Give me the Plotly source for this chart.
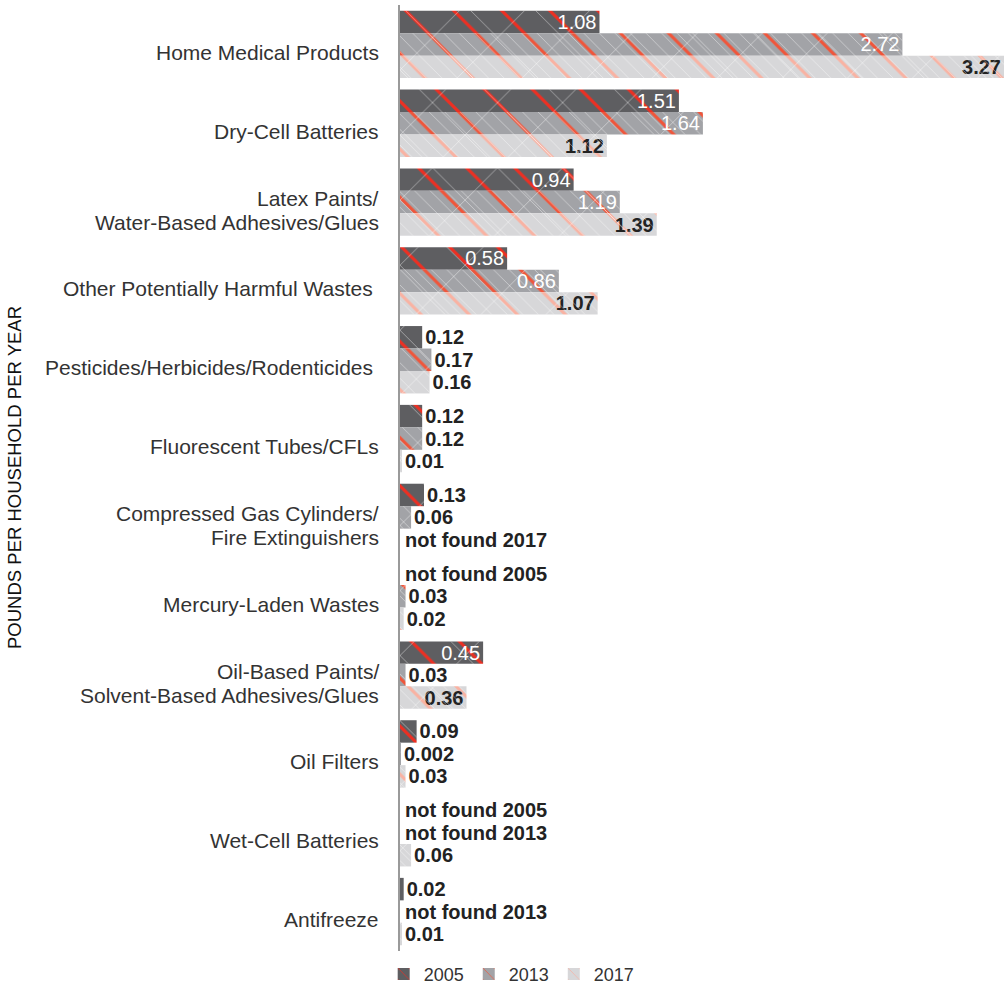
import plotly.graph_objects as go

# Household hazardous waste categories (top to bottom)
categories = [
    "Home Medical Products",
    "Dry-Cell Batteries",
    "Latex Paints/<br>Water-Based Adhesives/Glues",
    "Other Potentially Harmful Wastes ",
    "Pesticides/Herbicides/Rodenticides ",
    "Fluorescent Tubes/CFLs",
    "Compressed Gas Cylinders/<br>Fire Extinguishers",
    "Mercury-Laden Wastes",
    "Oil-Based Paints/<br>Solvent-Based Adhesives/Glues",
    "Oil Filters",
    "Wet-Cell Batteries",
    "Antifreeze",
]

# Pounds per household per year; None = not found that year
years = ["2005", "2013", "2017"]
values_2005 = [1.08, 1.51, 0.94, 0.58, 0.12, 0.12, 0.13, None, 0.45, 0.09, None, 0.02]
values_2013 = [2.72, 1.64, 1.19, 0.86, 0.17, 0.12, 0.06, 0.03, 0.03, 0.002, None, None]
values_2017 = [3.27, 1.12, 1.39, 1.07, 0.16, 0.01, None, 0.02, 0.36, 0.03, 0.06, 0.01]

series = [values_2005, values_2013, values_2017]

bar_colors = ["#5e5e61", "#a2a3a7", "#d7d7d9"]
stripe_colors = ["#ee2f22", "#f0553a", "#f9b2a2"]
inside_text_colors = ["#ffffff", "#ffffff", "#222222"]
inside_text_weights = ["normal", "normal", "bold"]

FONT = "Liberation Sans, Arial, sans-serif"
LABEL_SIZE = 20
CAT_SIZE = 21
CAT_LINE_STEP = 24
DARK = "#222222"

# Plot geometry
WIDTH, HEIGHT = 1004, 990
M_L, M_R, M_T, M_B = 400, 0, 5, 39
BARGAP = 0.145

fig = go.Figure()

# Base layer: grey bars with red diagonal stripes and value labels
for yr, vals, col, stripe, itc, itw in zip(years, series, bar_colors, stripe_colors,
                                           inside_text_colors, inside_text_weights):
    text = ["" if v is None else str(v) for v in vals]
    fig.add_trace(go.Bar(
        name=yr,
        y=categories,
        x=vals,
        orientation="h",
        text=text,
        textposition="auto",
        constraintext="none",
        insidetextanchor="end",
        insidetextfont=dict(family=FONT, size=LABEL_SIZE, color=itc, weight=itw),
        outsidetextfont=dict(family=FONT, size=LABEL_SIZE, color=DARK, weight="bold"),
        marker=dict(
            color=col,
            line=dict(width=0),
            pattern=dict(shape="\\", size=34, solidity=0.09,
                         fgcolor=stripe, bgcolor=col, fgopacity=1,
                         fillmode="replace"),
        ),
        hoverinfo="skip",
        xaxis="x",
        yaxis="y",
    ))

# Second layer: sparse thin white cross-hatch over every bar
for yr, vals in zip(years, series):
    fig.add_trace(go.Bar(
        y=categories,
        x=vals,
        orientation="h",
        showlegend=False,
        hoverinfo="skip",
        marker=dict(
            color="rgba(0,0,0,0)",
            line=dict(width=0),
            pattern=dict(shape="x", size=46, solidity=0.03,
                         fgcolor="rgba(255,255,255,0.6)",
                         bgcolor="rgba(0,0,0,0)", fillmode="replace"),
        ),
        xaxis="x",
        yaxis="y2",
    ))

# Third layer: dense fine white hatching on the 2013 and 2017 bars
dense = [False, True, True]
for yr, vals, d in zip(years, series, dense):
    fig.add_trace(go.Bar(
        y=categories,
        x=vals,
        orientation="h",
        showlegend=False,
        hoverinfo="skip",
        marker=dict(
            color="rgba(0,0,0,0)",
            line=dict(width=0),
            pattern=dict(shape="\\" if d else "", size=11, solidity=0.08,
                         fgcolor="rgba(255,255,255,0.45)",
                         bgcolor="rgba(0,0,0,0)", fillmode="replace"),
        ),
        xaxis="x",
        yaxis="y3",
    ))

annotations = []

# Category names, right-aligned beside the axis, with tight line spacing
for cat in categories:
    lines = cat.split("<br>")
    n = len(lines)
    for k, line in enumerate(lines):
        annotations.append(dict(
            text=line,
            xref="paper", yref="y",
            x=0, y=cat,
            xanchor="right", yanchor="middle",
            xshift=-19,
            yshift=-8 - (k - (n - 1) / 2) * CAT_LINE_STEP,
            showarrow=False,
            font=dict(family=FONT, size=CAT_SIZE, color="#333333"),
        ))

# "not found" notes sit in the slot of the missing bar within each group
plot_h = HEIGHT - M_T - M_B
bar_thickness = plot_h / len(categories) * (1 - BARGAP) / len(years)
for j, (yr, vals) in enumerate(zip(years, series)):
    for cat, v in zip(categories, vals):
        if v is None:
            annotations.append(dict(
                text=f"not found {yr}",
                xref="x", yref="y",
                x=0, y=cat,
                xanchor="left", yanchor="middle",
                xshift=3,
                yshift=(1 - j) * bar_thickness,
                showarrow=False,
                font=dict(family=FONT, size=LABEL_SIZE, color=DARK, weight="bold"),
            ))

annotations.append(dict(
    text="POUNDS PER HOUSEHOLD PER YEAR",
    xref="paper", yref="paper",
    x=(14 - M_L) / (WIDTH - M_L - M_R), y=0.5,
    xanchor="center", yanchor="middle",
    textangle=-90,
    showarrow=False,
    font=dict(family=FONT, size=18.5, color="#111111"),
))

cat_axis = dict(
    type="category",
    categoryorder="array",
    categoryarray=categories,
    autorange="reversed",
)

fig.update_layout(
    width=WIDTH,
    height=HEIGHT,
    margin=dict(l=M_L, r=M_R, t=M_T, b=M_B, autoexpand=False),
    paper_bgcolor="white",
    plot_bgcolor="white",
    barmode="group",
    bargap=BARGAP,
    bargroupgap=0,
    font=dict(family=FONT, color="#333333"),
    xaxis=dict(
        range=[0, 3.27],
        visible=False,
        fixedrange=True,
    ),
    yaxis=dict(
        **cat_axis,
        showline=True,
        linecolor="#9a9a9a",
        linewidth=2,
        ticks="",
        showgrid=False,
        showticklabels=False,
    ),
    yaxis2=dict(**cat_axis, overlaying="y", visible=False, matches="y"),
    yaxis3=dict(**cat_axis, overlaying="y", visible=False, matches="y"),
    legend=dict(
        orientation="h",
        x=-0.027,
        xanchor="left",
        y=-0.005,
        yanchor="top",
        font=dict(family=FONT, size=18, color="#333333"),
        itemwidth=30,
        traceorder="normal",
    ),
    annotations=annotations,
)

fig.write_html("out.html")
